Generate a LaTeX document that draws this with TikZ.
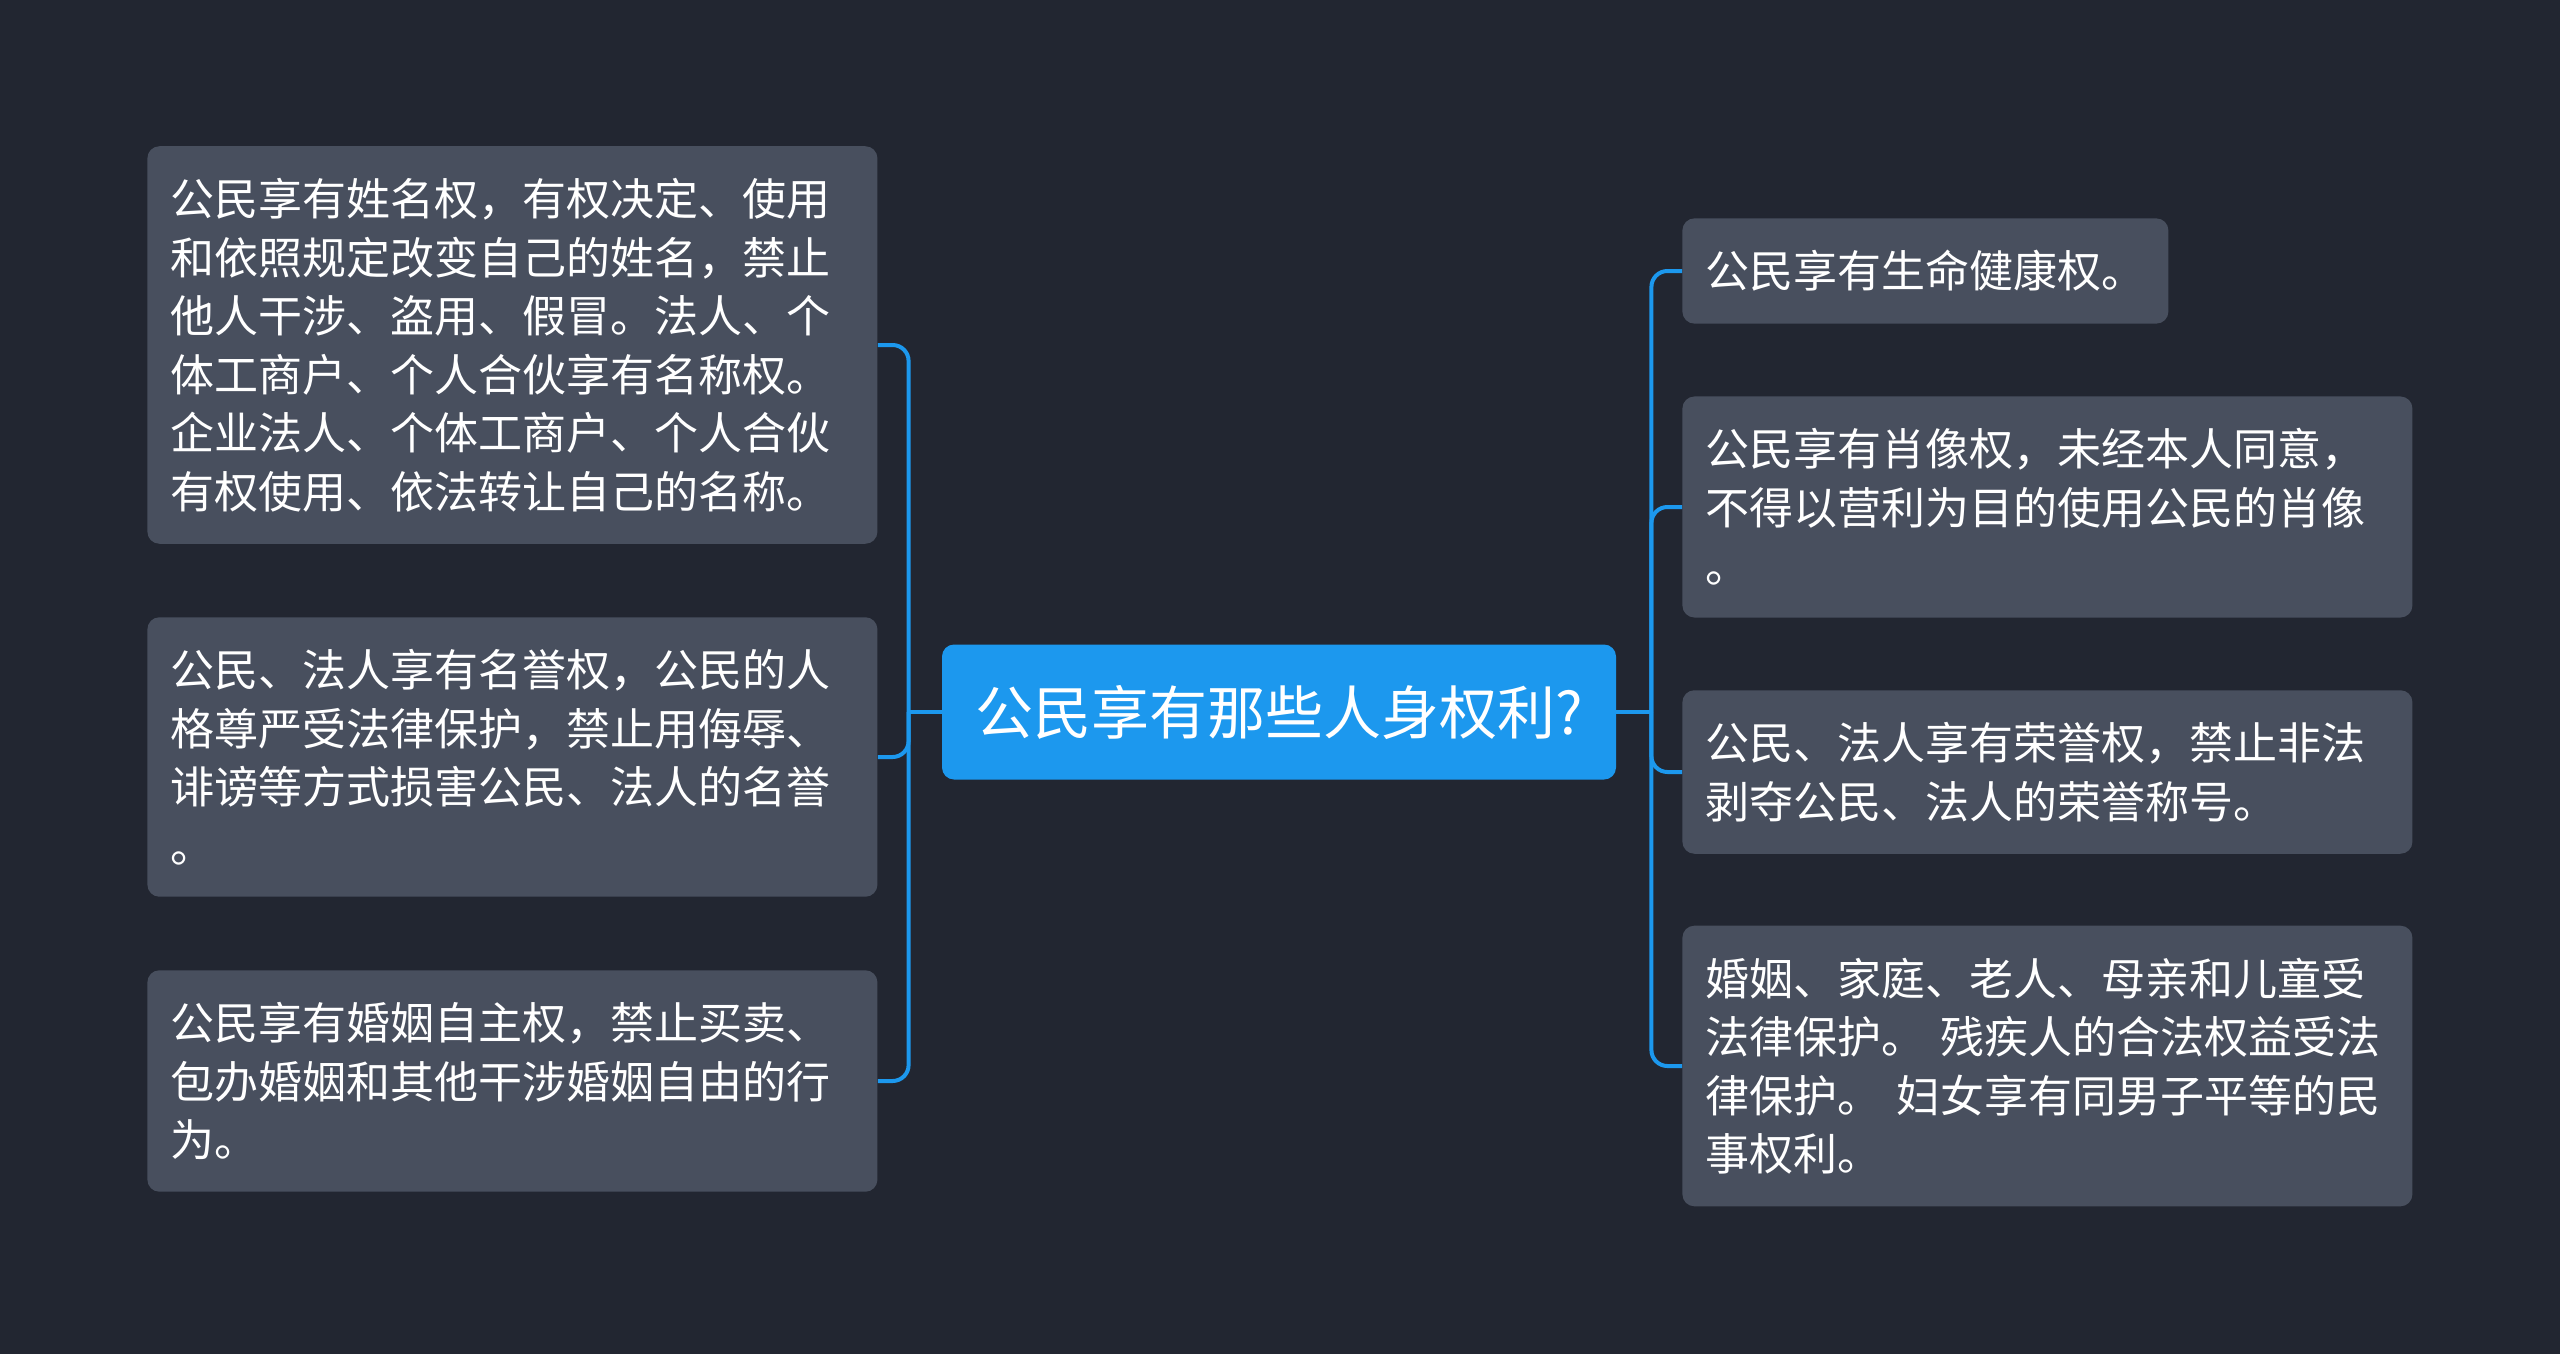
\documentclass[tikz,border=0pt]{standalone}
\usepackage{fontspec}
\setmainfont{Noto Sans CJK SC}
\usepackage{tikz}
\usetikzlibrary{positioning, calc}
\definecolor{bgdark}{HTML}{222631}
\definecolor{leafgray}{HTML}{484F5E}
\definecolor{hubblue}{HTML}{1C98EE}
\tikzset{every node/.append style={text=white}}

\begin{document}
\begin{tikzpicture}[x=0.5pt, y=-0.5pt,
  leafbox/.style={fill=leafgray, rounded corners=6pt, inner xsep=11.5pt, inner ysep=16pt, align=left, font=\fontsize{22pt}{29.25pt}\selectfont},
  widebox/.style={leafbox, text width=342pt},
  hubbox/.style={fill=hubblue, rounded corners=6pt, minimum width=337pt, minimum height=67.5pt, font=\fontsize{29pt}{35pt}\selectfont},
  link/.style={draw=hubblue, line width=2pt, rounded corners=8pt}]
  \fill[bgdark] (0,0) rectangle (2560,1354);
  \useasboundingbox (0,0) rectangle (2560,1354);
  % centre
  \node[hubbox] (hub) at (1279,712) {公民享有那些人身权利?};
  % left side
  \node[widebox, anchor=west] (name) at (147,345) {公民享有姓名权，有权决定、使用\\和依照规定改变自己的姓名，禁止\\他人干涉、盗用、假冒。法人、个\\体工商户、个人合伙享有名称权。\\企业法人、个体工商户、个人合伙\\有权使用、依法转让自己的名称。};
  \node[widebox, anchor=west] (repute) at (147,757) {公民、法人享有名誉权，公民的人\\格尊严受法律保护，禁止用侮辱、\\诽谤等方式损害公民、法人的名誉\\。};
  \node[widebox, anchor=west] (marriage) at (147,1081) {公民享有婚姻自主权，禁止买卖、\\包办婚姻和其他干涉婚姻自由的行\\为。};
  % right side
  \node[leafbox, anchor=west] (life) at (1682,271) {公民享有生命健康权。};
  \node[widebox, anchor=west] (portrait) at (1682,507) {公民享有肖像权，未经本人同意，\\不得以营利为目的使用公民的肖像\\。};
  \node[widebox, anchor=west] (honour) at (1682,772) {公民、法人享有荣誉权，禁止非法\\剥夺公民、法人的荣誉称号。};
  \node[widebox, anchor=west] (family) at (1682,1066) {婚姻、家庭、老人、母亲和儿童受\\法律保护。 残疾人的合法权益受法\\律保护。 妇女享有同男子平等的民\\事权利。};
  % connectors
  \coordinate (jl) at ($(hub.west)+(-33,0)$);
  \coordinate (jr) at ($(hub.east)+(35,0)$);
  \draw[link] (hub.west) -- (jl);
  \draw[link] (hub.east) -- (jr);
  \foreach \n in {name, repute, marriage}
    \draw[link] (jl) |- (\n.east);
  \foreach \n in {life, portrait, honour, family}
    \draw[link] (jr) |- (\n.west);
\end{tikzpicture}
\end{document}
